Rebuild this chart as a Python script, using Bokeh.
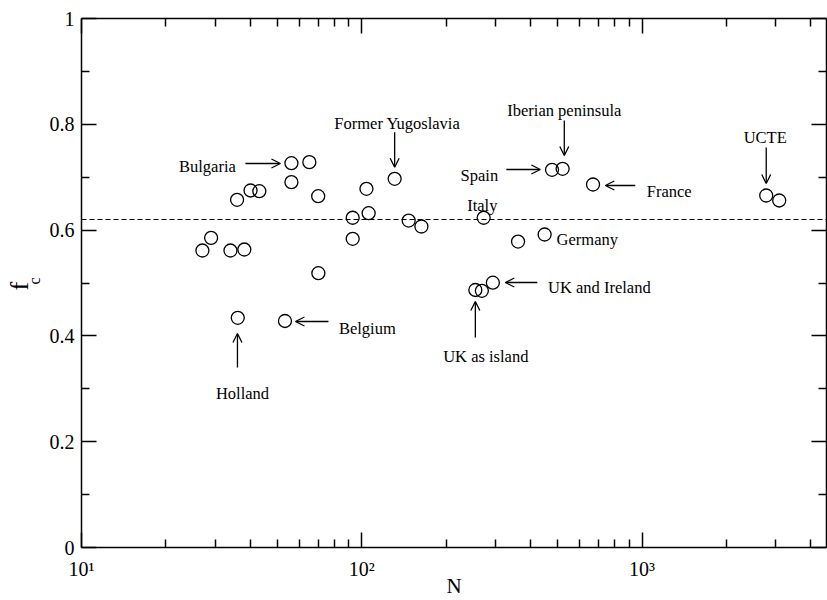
import math
from bokeh.plotting import figure
from bokeh.models import (FixedTicker, CustomJSTickFormatter, LogAxis, LinearAxis,
                          Span, Arrow, OpenHead, ColumnDataSource)
from bokeh.core.properties import value
from bokeh.embed import file_html
from bokeh.resources import INLINE

# ---------------- data ----------------
n_nodes = [56.1, 65.0, 56.1, 69.9, 103.9, 131.0, 40.1, 43.1, 35.9, 105.8,
           92.8, 147.0, 163.2, 92.8, 29.0, 27.0, 34.0, 38.1, 70.0, 36.1,
           53.2, 254.2, 268.2, 293.5, 272.2, 449.1, 361.0, 477.2, 520.6, 668.3,
           2773.0, 3086.0]
f_c = [0.7265, 0.7284, 0.6906, 0.6641, 0.6781, 0.6970, 0.6749, 0.6735, 0.6573, 0.6319,
       0.6233, 0.6181, 0.6068, 0.5836, 0.5854, 0.5614, 0.5614, 0.5633, 0.5185, 0.4342,
       0.4282, 0.4868, 0.4853, 0.5006, 0.6233, 0.5917, 0.5784, 0.7140, 0.7159, 0.6862,
       0.6654, 0.6560]
mean_fc = 0.62

label_text = ["Bulgaria", "Former Yugoslavia", "Iberian peninsula", "Spain", "France",
              "UCTE", "Italy", "Germany", "UK and Ireland", "UK as island",
              "Belgium", "Holland"]
label_x = [28.14, 133.9, 527.9, 262.7, 1250.0, 2750.0, 269.2, 637.6, 703.9, 277.0, 104.7, 37.52]
label_y = [0.7202, 0.8015, 0.8261, 0.7032, 0.6730, 0.7745, 0.6465, 0.5817, 0.4909, 0.3616,
           0.4134, 0.2917]

arrow_x0 = [38.46, 131.0, 527.9, 327.9, 945.7, 2773.0, 422.9, 254.2, 76.03, 36.01]
arrow_y0 = [0.7259, 0.7851, 0.8072, 0.7146, 0.6843, 0.7561, 0.5009, 0.3970, 0.4272, 0.3403]
arrow_x1 = [51.25, 131.0, 527.9, 433.5, 739.4, 2773.0, 325.2, 254.2, 57.99, 36.01]
arrow_y1 = [0.7259, 0.7189, 0.7410, 0.7146, 0.6843, 0.6881, 0.5009, 0.4650, 0.4272, 0.4045]

x_major = [10, 100, 1000]
x_minor = [20, 30, 40, 50, 60, 70, 80, 90, 200, 300, 400, 500, 600, 700, 800, 900,
           2000, 3000, 4000]
x_tick_labels = ["10\u00b9", "10\u00b2", "10\u00b3"]
y_major = [0.0, 0.2, 0.4, 0.6, 0.8, 1.0]
y_minor = [0.1, 0.3, 0.5, 0.7, 0.9]
y_tick_labels = ["0", "0.2", "0.4", "0.6", "0.8", "1"]

x_title = "N"
y_title_main = "f\u00a0"
y_title_sub = "\u00a0c"

x_min, x_max = 10, 4550
y_min, y_max = 0, 1

FONT = "Liberation Serif"

# ---------------- figure ----------------
p = figure(width=827, height=600, x_axis_type="log",
           x_range=(x_min, x_max), y_range=(y_min, y_max),
           output_backend="svg", toolbar_location=None,
           min_border_left=81, min_border_right=1, min_border_top=18, min_border_bottom=53)
p.grid.visible = False
p.outline_line_color = None
p.background_fill_color = "white"
p.border_fill_color = "white"

pick = """
let best = 0;
for (let i = 0; i < tv.length; i++) {
  if (Math.abs(tv[i] - tick) < Math.abs(tv[best] - tick)) best = i;
}
return tl[best];
"""
x_fmt = CustomJSTickFormatter(args=dict(tv=x_major, tl=x_tick_labels), code=pick)
y_fmt = CustomJSTickFormatter(args=dict(tv=y_major, tl=y_tick_labels), code=pick)
blank_fmt = CustomJSTickFormatter(code="return ''")


def style(ax, show_labels):
    ax.axis_line_color = "black"
    ax.axis_line_width = 1.5
    ax.major_tick_in = 15
    ax.major_tick_out = 0
    ax.minor_tick_in = 8
    ax.minor_tick_out = 0
    ax.major_tick_line_color = "black"
    ax.minor_tick_line_color = "black"
    ax.major_tick_line_width = 1.5
    ax.minor_tick_line_width = 1.5
    if show_labels:
        ax.major_label_text_font = FONT
        ax.major_label_text_font_size = "20px"
        ax.major_label_text_color = "black"
    else:
        ax.formatter = blank_fmt
        ax.major_label_standoff = 0


def title_axis(ax, text, size, standoff):
    ax.ticker = FixedTicker(ticks=[], minor_ticks=[])
    ax.axis_line_color = None
    ax.major_tick_in = 0
    ax.major_tick_out = 0
    ax.minor_tick_in = 0
    ax.minor_tick_out = 0
    ax.major_label_standoff = 0
    ax.axis_label = text
    ax.axis_label_text_font = FONT
    ax.axis_label_text_font_style = "normal"
    ax.axis_label_text_font_size = size
    ax.axis_label_text_color = "black"
    ax.axis_label_standoff = standoff


# bottom axis (with N title)
xb = p.xaxis[0]
xb.ticker = FixedTicker(ticks=x_major, minor_ticks=x_minor)
xb.formatter = x_fmt
style(xb, True)
xb.major_label_standoff = 10
xb.axis_label = x_title
xb.axis_label_text_font = FONT
xb.axis_label_text_font_style = "normal"
xb.axis_label_text_font_size = "21px"
xb.axis_label_text_color = "black"
xb.axis_label_standoff = -9

# left axis
yl = p.yaxis[0]
yl.ticker = FixedTicker(ticks=y_major, minor_ticks=y_minor)
yl.formatter = y_fmt
style(yl, True)
yl.major_label_standoff = 7

# left title "f" with subscript "c", built from two label-only axes
ax_sub = LinearAxis()
title_axis(ax_sub, y_title_sub, "16px", 4)
p.add_layout(ax_sub, "left")
ax_main = LinearAxis()
title_axis(ax_main, y_title_main, "26px", -11)
p.add_layout(ax_main, "left")

# top and right frame axes (ticks only)
xt = LogAxis(ticker=FixedTicker(ticks=x_major, minor_ticks=x_minor))
style(xt, False)
p.add_layout(xt, "above")

yr = LinearAxis(ticker=FixedTicker(ticks=y_major, minor_ticks=y_minor))
style(yr, False)
p.add_layout(yr, "right")

# dashed mean line
p.add_layout(Span(location=mean_fc, dimension="width", line_color="black",
                  line_width=1.2, line_dash="5 3"))

# points
p.scatter(n_nodes, f_c, marker="circle", size=13, fill_color=None,
          line_color="black", line_width=1.3)

# annotation texts
p.text(x="x", y="y", text="text",
       source=ColumnDataSource(dict(x=label_x, y=label_y, text=label_text)),
       text_font=value(FONT), text_font_size="16.5px", text_color="black",
       text_align="center", text_baseline="alphabetic")

# arrows
p.add_layout(Arrow(end=OpenHead(size=9, line_width=1.3, line_color="black"),
                   source=ColumnDataSource(dict(x0=arrow_x0, y0=arrow_y0,
                                                x1=arrow_x1, y1=arrow_y1)),
                   x_start="x0", y_start="y0", x_end="x1", y_end="y1",
                   line_width=1.3, line_color="black"))

open("out.html", "w").write(file_html(p, INLINE))
